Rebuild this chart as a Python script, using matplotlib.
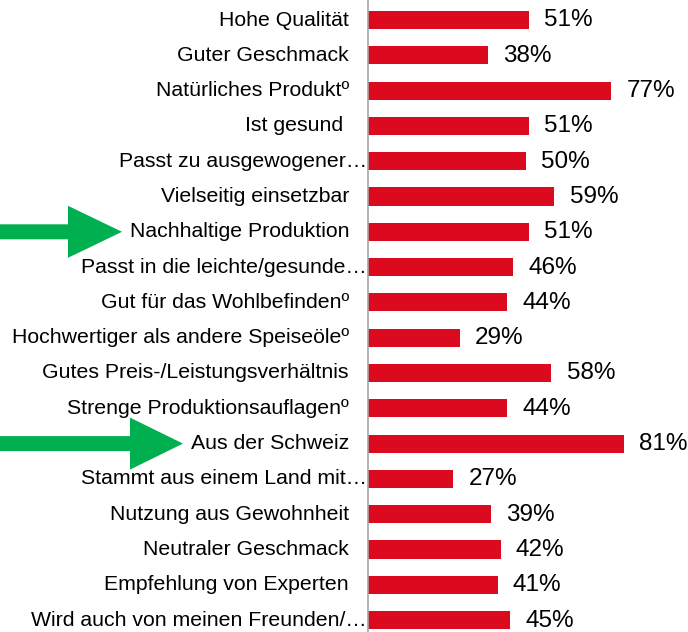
import matplotlib
matplotlib.use("Agg")
import matplotlib.pyplot as plt
from matplotlib.patches import Polygon
from matplotlib.transforms import blended_transform_factory

categories = [
    "Hohe Qualität",
    "Guter Geschmack",
    "Natürliches Produktº",
    "Ist gesund ",
    "Passt zu ausgewogener…",
    "Vielseitig einsetzbar",
    "Nachhaltige Produktion",
    "Passt in die leichte/gesunde…",
    "Gut für das Wohlbefindenº",
    "Hochwertiger als andere Speiseöleº",
    "Gutes Preis-/Leistungsverhältnis",
    "Strenge Produktionsauflagenº",
    "Aus der Schweiz",
    "Stammt aus einem Land mit…",
    "Nutzung aus Gewohnheit",
    "Neutraler Geschmack",
    "Empfehlung von Experten",
    "Wird auch von meinen Freunden/…",
]
values = [51, 38, 77, 51, 50, 59, 51, 46, 44, 29, 58, 44, 81, 27, 39, 42, 41, 45]
highlighted = ["Nachhaltige Produktion", "Aus der Schweiz"]

W, H = 688, 632
fig = plt.figure(figsize=(W / 100, H / 100), dpi=100)
plt.rcParams['font.family'] = ['Liberation Sans', 'DejaVu Sans']

ax_left = 368 / W
ax = fig.add_axes([ax_left, 0, 1 - ax_left, 1])
row_top, row_step = 20, 35.3
ax.set_ylim((H - row_top) / row_step, -row_top / row_step)
ax.set_xlim(0, (W - 368) / 3.16)

ypos = list(range(len(categories)))
ax.barh(ypos, values, height=0.51, color="#DC0A1E", edgecolor="none")

for y, v in zip(ypos, values):
    ax.annotate(f"{v}%", xy=(v, y), xytext=(11, -0.3), textcoords="offset points",
                ha="left", va="center", fontsize=17.5, color="#000000")

for s in ["top", "right", "bottom"]:
    ax.spines[s].set_visible(False)
ax.spines["left"].set_color("#A6A6A6")
ax.spines["left"].set_linewidth(1.2)
ax.set_xticks([])
ax.set_yticks([])

tr = blended_transform_factory(fig.transFigure, ax.transData)
for y, c in zip(ypos, categories):
    xr = 367 if c.endswith("…") else 349
    fig.text(xr / W, y, c, transform=tr, ha="right", va="center",
             fontsize=15.3, color="#000000")

# green arrows
arrow_specs = {"Nachhaltige Produktion": (68, 122), "Aus der Schweiz": (130, 183)}
for name in highlighted:
    y = categories.index(name)
    shaft_end, tip = arrow_specs[name]
    sh = 7.5 / row_step
    hh = 26 / row_step
    pts = [(0, y - sh), (shaft_end / W, y - sh), (shaft_end / W, y - hh),
           (tip / W, y), (shaft_end / W, y + hh), (shaft_end / W, y + sh), (0, y + sh)]
    fig.patches.append(Polygon(pts, closed=True, transform=tr, facecolor="#00B050",
                               edgecolor="none", clip_on=False))

fig.savefig("out.png", dpi=100)
